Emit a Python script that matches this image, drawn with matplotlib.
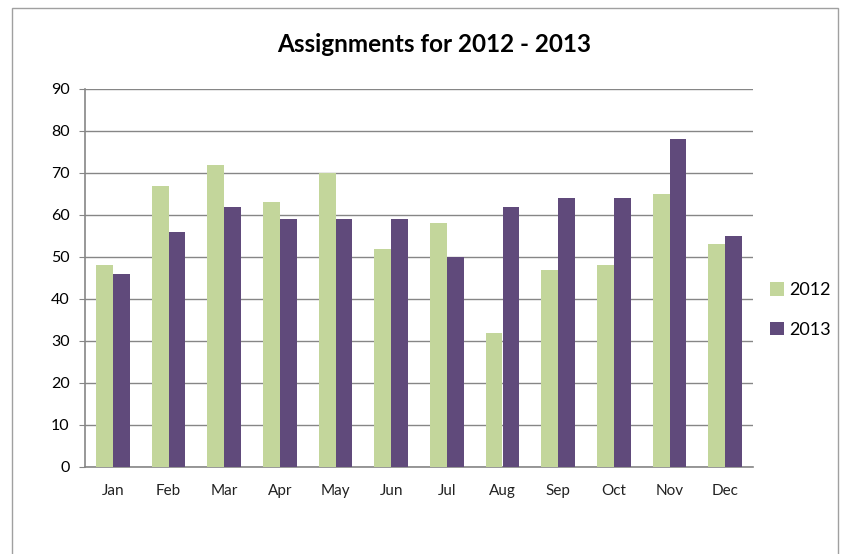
import matplotlib.pyplot as plt
import numpy as np
from matplotlib.patches import Rectangle

# Assignments per month
months = ['Jan', 'Feb', 'Mar', 'Apr', 'May', 'Jun',
          'Jul', 'Aug', 'Sep', 'Oct', 'Nov', 'Dec']
y2012 = [48, 67, 72, 63, 70, 52, 58, 32, 47, 48, 65, 53]
y2013 = [46, 56, 62, 59, 59, 59, 50, 62, 64, 64, 78, 55]
series = ['2012', '2013']

green = '#c3d69b'
purple = '#604a7b'
grey = '#868686'

plt.rcParams['font.family'] = ['Lato', 'DejaVu Sans']

fig = plt.figure(figsize=(8.46, 5.54), dpi=100)
ax = fig.add_axes([85/846, 1-467/554, 668/846, 378/554])

x = np.arange(len(months))
w = 0.3
ax.bar(x - w/2, y2012, w, color=green, label=series[0], zorder=3)
ax.bar(x + w/2, y2013, w, color=purple, label=series[1], zorder=3)

ax.set_xlim(-0.5, len(months) - 0.5)
ax.set_ylim(0, 90)
ax.set_yticks(range(0, 91, 10))
ax.set_xticks(x)
ax.set_xticklabels(months, fontsize=11, color='#222222')
ax.tick_params(axis='y', labelsize=11.5, length=4, color=grey, pad=7)
ax.tick_params(axis='x', length=0, pad=12)
ax.yaxis.grid(True, color=grey, linewidth=1, zorder=0)
for s in ['top', 'right']:
    ax.spines[s].set_visible(False)
for s in ['left', 'bottom']:
    ax.spines[s].set_color(grey)
    ax.spines[s].set_linewidth(1.2)

fig.text(434/846, 1-45/554, 'Assignments for 2012 - 2013',
         ha='center', va='center', fontsize=17.5, fontweight='bold')

leg = fig.legend(loc='center left', bbox_to_anchor=(754/846, 1-310/554),
                 frameon=False, fontsize=13, handlelength=0.75,
                 handleheight=0.75, handletextpad=0.3, labelspacing=1.3)

# chart border
fig.add_artist(Rectangle((12/846, -0.01), (838-12)/846, 1-8/554+0.01,
                         transform=fig.transFigure, fill=False,
                         edgecolor='#a0a0a0', linewidth=1))

fig.savefig('out.png', dpi=100)
